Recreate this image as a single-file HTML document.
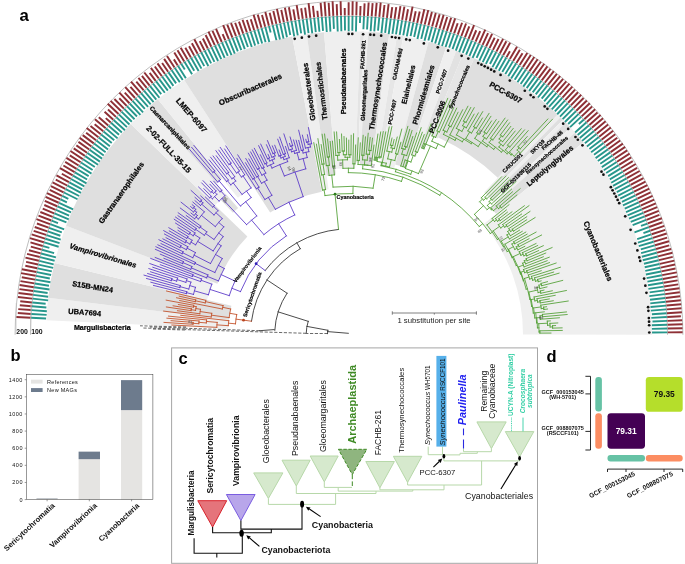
<!DOCTYPE html>
<html><head><meta charset="utf-8"><title>Figure</title>
<style>html,body{margin:0;padding:0;background:#fff}svg{display:block}</style></head>
<body>
<svg width="685" height="564" viewBox="0 0 685 564" font-family="'Liberation Sans', sans-serif">
<rect width="685" height="564" fill="#fff"/>
<g id="sectors">
<path d="M46.32 320.37A303 303 0 0 1 48.2 297.72L228.88 319.63A121 121 0 0 0 228.13 328.68Z" fill="#efefef"/>
<path d="M48.2 297.72A303 303 0 0 1 54.49 262.97L231.39 305.76A121 121 0 0 0 228.88 319.63Z" fill="#dfdfdf"/>
<path d="M54.49 262.97A303 303 0 0 1 66.08 225.75L212.67 281.94A146 146 0 0 0 207.09 299.88Z" fill="#efefef"/>
<path d="M66.08 225.75A303 303 0 0 1 130.66 124.11L247.4 236.44A141 141 0 0 0 217.34 283.73Z" fill="#dfdfdf"/>
<path d="M130.66 124.11A303 303 0 0 1 148.94 106.63L226.19 194.51A186 186 0 0 0 214.97 205.23Z" fill="#efefef"/>
<path d="M148.94 106.63A303 303 0 0 1 157.8 99.15L222.16 178.27A201 201 0 0 0 216.29 183.24Z" fill="#dfdfdf"/>
<path d="M157.8 99.15A303 303 0 0 1 184.21 79.93L253.28 186.51A176 176 0 0 0 237.94 197.67Z" fill="#efefef"/>
<path d="M184.21 79.93A303 303 0 0 1 292.14 36.58L321.79 191.78A145 145 0 0 0 270.14 212.52Z" fill="#dfdfdf"/>
<path d="M292.14 36.58A303 303 0 0 1 306.71 34.17L328.55 189.13A146.5 146.5 0 0 0 321.51 190.3Z" fill="#efefef"/>
<path d="M306.71 34.17A303 303 0 0 1 324.01 32.23L335.8 174.75A160 160 0 0 0 326.67 175.77Z" fill="#dfdfdf"/>
<path d="M324.01 32.23A303 303 0 0 1 360.38 31.41L355.23 168.32A166 166 0 0 0 335.31 168.77Z" fill="#efefef"/>
<path d="M360.38 31.41A303 303 0 0 1 364.07 31.57L357.55 162.41A172 172 0 0 0 355.46 162.32Z" fill="#e4e4e4"/>
<path d="M364.07 31.57A303 303 0 0 1 368.28 31.81L359.95 162.55A172 172 0 0 0 357.55 162.41Z" fill="#efefef"/>
<path d="M368.28 31.81A303 303 0 0 1 389.28 33.89L371.6 165.71A170 170 0 0 0 359.82 164.54Z" fill="#dfdfdf"/>
<path d="M389.28 33.89A303 303 0 0 1 397.12 35.04L376.95 160.43A176 176 0 0 0 372.4 159.76Z" fill="#efefef"/>
<path d="M397.12 35.04A303 303 0 0 1 403.36 36.12L381.29 157.12A180 180 0 0 0 377.58 156.48Z" fill="#e6e6e6"/>
<path d="M403.36 36.12A303 303 0 0 1 428.58 41.84L394.17 168.24A172 172 0 0 0 379.86 164.99Z" fill="#efefef"/>
<path d="M428.58 41.84A303 303 0 0 1 446.25 47.23L405.49 167.51A176 176 0 0 0 395.22 164.38Z" fill="#dfdfdf"/>
<path d="M446.25 47.23A303 303 0 0 1 456.2 50.8L416.22 156.49A190 190 0 0 0 409.98 154.25Z" fill="#efefef"/>
<path d="M456.2 50.8A303 303 0 0 1 463.08 53.5L424.3 148.92A200 200 0 0 0 419.76 147.13Z" fill="#e2e2e2"/>
<path d="M463.08 53.5A303 303 0 0 1 474.24 58.29L437.87 138.43A215 215 0 0 0 429.95 135.02Z" fill="#e6e6e6"/>
<path d="M474.24 58.29A303 303 0 0 1 557.78 114.61L497.83 177.66A216 216 0 0 0 438.28 137.51Z" fill="#dfdfdf"/>
<path d="M557.78 114.61A303 303 0 0 1 560.45 117.18L485.78 193.81A196 196 0 0 0 484.05 192.15Z" fill="#efefef"/>
<path d="M560.45 117.18A303 303 0 0 1 563.08 119.78L487.48 195.5A196 196 0 0 0 485.78 193.81Z" fill="#dfdfdf"/>
<path d="M563.08 119.78A303 303 0 0 1 565.69 122.41L489.17 197.2A196 196 0 0 0 487.48 195.5Z" fill="#efefef"/>
<path d="M565.69 122.41A303 303 0 0 1 570.62 127.57L492.36 200.54A196 196 0 0 0 489.17 197.2Z" fill="#dfdfdf"/>
<path d="M570.62 127.57A303 303 0 0 1 575.07 132.46L495.24 203.7A196 196 0 0 0 492.36 200.54Z" fill="#efefef"/>
<path d="M575.07 132.46A303 303 0 0 1 583.49 142.31L496.04 213.87A190 190 0 0 0 490.76 207.69Z" fill="#dfdfdf"/>
<path d="M583.49 142.31A303 303 0 0 1 652 334.73L523 334.5A174 174 0 0 0 483.66 224.01Z" fill="#efefef"/>
<path d="M220.5 199.73A186 186 0 0 1 226.24 194.46L238.12 207.99A168 168 0 0 0 232.93 212.74Z" fill="#dfdfdf"/>
</g>
<g fill="none" stroke="#a2a2a2" stroke-width="0.7">
<path d="M15.1 334.78A333.9 333.9 0 0 1 682.9 334.78"/>
<path d="M30.5 334.76A318.5 318.5 0 0 1 667.5 334.76"/>
</g>
<path d="M30.73 317.74L16.24 316.99M30.95 313.91L17.79 313.07M31.21 310.08L18.27 309.1M31.53 306.25L19.82 305.22M31.89 302.43L20.24 301.26M32.29 298.61L17.98 297M32.75 294.8L18.46 293.02M33.24 290.99L19.46 289.1M33.79 287.19L19.61 285.08M34.38 283.4L20.43 281.14M35.01 279.61L21.78 277.31M35.69 275.83L21.04 273.1M36.42 272.06L21.91 269.18M37.19 268.3L25.31 265.79M38 264.55L26.11 261.88M38.87 260.8L25.44 257.63M39.77 257.07L27.05 253.9M40.72 253.35L28.97 250.27M41.72 249.65L30.83 246.65M42.76 245.95L30.45 242.4M43.85 242.27L29.94 238.08M44.98 238.6L31.63 234.4M46.15 234.94L33.67 230.85M47.37 231.3L34.73 226.99M48.63 227.67L36.9 223.51M49.94 224.06L36.45 219.1M51.28 220.47L38.48 215.57M52.68 216.89L40.33 212M54.11 213.33L42.72 208.66M55.59 209.78L44.3 205M57.11 206.26L44.78 200.85M58.67 202.75L45.62 196.84M60.28 199.26L47 193.06M61.92 195.79L49.75 189.93M63.61 192.34L50.93 186.04M65.34 188.92L52.57 182.38M67.11 185.51L55.78 179.53M68.92 182.12L56.48 175.37M70.78 178.76L61.82 173.76M72.67 175.42L60.04 168.17M74.6 172.1L63.38 165.47M76.58 168.81L65.18 161.89M78.59 165.54L66.42 157.95M80.64 162.29L69.8 155.35M82.73 159.07L70.48 151.02M84.86 155.88L73.72 148.35M87.03 152.71L76.38 145.33M89.23 149.56L78.46 141.91M91.48 146.45L79.7 137.87M93.76 143.36L82.7 135.1M96.07 140.3L86.13 132.67M98.43 137.26L86.64 128M100.82 134.26L90.49 125.94M103.25 131.28L94.64 124.18M105.71 128.34L94.94 119.23M108.21 125.42L98.8 117.27M110.74 122.54L105.76 118.11M113.31 119.68L104.58 111.74M115.91 116.86L107.99 109.47M118.54 114.07L107.71 103.72M121.21 111.3L110.59 100.91M123.91 108.58L114.39 99.03M126.65 105.88L119.26 98.3M129.42 103.22L119.38 92.66M132.21 100.59L124.75 92.55M135.04 98L125.27 87.21M137.91 95.43L130.42 86.97M140.8 92.91L131.01 81.57M143.72 90.42L136.32 81.64M146.67 87.96L138.44 77.94M149.65 85.54L141.93 75.91M152.66 83.16L144.31 72.48M155.7 80.81L149.65 72.88M158.77 78.5L150.86 67.87M161.86 76.23L154.82 66.52M164.98 73.99L157.49 63.39M168.13 71.79L162.1 63.04M171.31 69.63L164.11 58.91M174.51 67.51L166.99 56.02M177.73 65.43L173.88 59.38M180.98 63.39L174.28 52.58M184.26 61.38L177.5 50.18M187.56 59.42L180.69 47.72M190.88 57.49L185.32 47.76M194.22 55.61L189.06 46.32M197.59 53.76L191.88 43.19M200.98 51.96L194.32 39.25M204.39 50.2L199.75 41.08M207.83 48.47L202.88 38.46M211.28 46.79L205.64 35.04M214.75 45.16L208.49 31.67M218.24 43.56L212.51 30.82M221.75 42L216.06 28.92M225.28 40.49L222.64 34.23M228.83 39.02L223.17 25.13M232.4 37.6L227.25 24.52M235.98 36.21L231.01 23.13M239.58 34.87L235.14 22.75M243.19 33.58L238.99 21.63M246.82 32.32L242.56 19.74M250.46 31.12L246.86 20.03M254.12 29.95L250.76 19.18M257.79 28.83L253.6 14.78M261.48 27.75L257.73 14.62M265.18 26.72L261.97 14.94M268.89 25.73L265.31 11.96M272.61 24.79L269.65 12.78M276.34 23.89L273.33 11M280.09 23.04L276.94 8.85M283.84 22.23L281.26 9.87M287.61 21.47L284.9 7.71M291.38 20.75L288.9 7.25M295.16 20.08L293.32 9.35M298.95 19.46L296.66 5.05M302.74 18.88L301.18 8.26M306.54 18.34L305.09 7.54M310.35 17.85L308.54 3.03M314.17 17.41L312.9 5.86M317.99 17.01L317.37 10.74M321.81 16.66L320.62 2.82M325.64 16.36L324.57 1.85M329.47 16.1L328.65 2.7M333.3 15.89L332.58 1.3M337.14 15.72L336.71 4.11M340.98 15.6L340.61 1.17M344.81 15.53L344.72 8.07M348.65 15.5L348.64 2.15M352.49 15.52L352.65 1.36M356.33 15.58L356.65 1.69M360.17 15.7L360.51 5.93M364.01 15.85L364.6 3.38M367.84 16.06L368.65 2.44M371.67 16.31L372.62 3.07M375.5 16.6L376.65 2.8M379.33 16.95L380.7 2.57M383.15 17.33L384.47 5.02M386.96 17.77L388.59 4.18M390.77 18.25L392.24 7.1M394.57 18.78L396.26 7.08M398.37 19.35L400.45 6.07M402.16 19.96L404.41 6.68M405.94 20.63L408.01 9.24M409.72 21.34L412.57 6.62M413.48 22.09L415.72 11.26M417.24 22.89L419.72 11.55M420.98 23.74L424.34 9.26M424.72 24.63L428.27 10.11M428.44 25.56L431.92 12.05M432.15 26.54L435.78 13.11M435.85 27.56L439.65 14.15M439.54 28.63L443.62 14.89M443.22 29.75L447.18 16.93M446.88 30.9L451.12 17.74M450.53 32.1L455.13 18.39M454.16 33.35L457.7 23.21M457.77 34.64L462.09 22.75M461.38 35.97L466.07 23.5M464.96 37.35L469.26 26.33M468.53 38.76L474.07 25.07M472.08 40.23L476.25 30.25M475.61 41.73L480.19 31.14M479.13 43.28L485.24 29.62M482.62 44.86L488.06 33.08M486.1 46.5L492.12 33.87M489.55 48.17L494.69 37.72M492.99 49.88L498.53 38.95M496.4 51.64L503.09 38.83M499.8 53.43L506.33 41.27M503.17 55.27L510.11 42.72M506.52 57.15L509.92 51.16M509.85 59.07L517.01 46.8M513.15 61.02L519.89 49.8M516.43 63.02L522.52 53.16M519.68 65.06L527.3 53.06M522.91 67.13L530.77 55.06M526.12 69.25L534.29 57.02M529.3 71.4L537.64 59.24M532.45 73.59L540.83 61.69M535.58 75.82L544.27 63.79M538.68 78.09L547.4 66.31M541.75 80.39L550.43 68.96M544.79 82.73L553.81 71.16M547.81 85.11L556.86 73.77M550.79 87.52L560.17 76.07M553.75 89.97L563.08 78.85M556.68 92.46L566.28 81.28M559.58 94.98L569.47 83.73M562.44 97.53L572.31 86.58M565.28 100.12L575.05 89.55M568.08 102.74L578 92.26M570.86 105.4L581.18 94.76M573.6 108.09L583.59 98.02M576.3 110.81L586.87 100.43M578.98 113.57L589.79 103.19M581.62 116.35L592.06 106.58M584.23 119.17L595.17 109.17M586.8 122.02L597.51 112.46M589.34 124.9L600.61 115.09M591.84 127.81L603.04 118.29M594.31 130.75L605.63 121.37M596.75 133.72L608.1 124.54M599.14 136.72L610.75 127.56M601.5 139.75L613.16 130.77M603.83 142.81L615.3 134.19M606.12 145.89L617.28 137.71M608.37 149L620.16 140.58M610.58 152.14L622.85 143.6M612.75 155.3L625.16 146.89M614.89 158.49L627.21 150.36M616.99 161.71L629.58 153.61M619.05 164.95L631.23 157.32M621.07 168.22L632.76 161.08M623.05 171.51L635.71 163.99M624.99 174.82L637.14 167.8M626.89 178.16L639.59 171.02M628.75 181.52L641.31 174.66M630.56 184.9L643.48 178.05M632.34 188.3L645.47 181.54M634.08 191.73L647.41 185.06M635.78 195.17L649.25 188.64M637.43 198.64L650.58 192.45M639.04 202.12L652.57 195.96M640.61 205.62L654.13 199.66M642.14 209.15L655.8 203.32M643.63 212.69L657.16 207.11M645.07 216.25L658.76 210.79M646.47 219.82L659.38 214.86M647.82 223.41L661.84 218.22M649.14 227.02L662.45 222.27M650.41 230.64L664.31 225.87M651.63 234.28L665.18 229.81M652.81 237.94L666.71 233.54M653.95 241.6L667.17 237.59M655.05 245.29L669.01 241.23M656.09 248.98L669.26 245.33M657.1 252.68L671.15 248.97M658.06 256.4L672.47 252.77M658.97 260.13L672.75 256.84M659.84 263.87L674.37 260.58M660.67 267.62L675.06 264.55M661.45 271.38L675.51 268.55M662.18 275.15L676.79 272.4M662.87 278.93L677.33 276.38M663.51 282.71L677.64 280.4M664.11 286.51L678.23 284.37M664.66 290.31L679.44 288.25M665.17 294.11L679.81 292.26M665.63 297.92L680.06 296.27M666.04 301.74L680.82 300.23M666.41 305.56L681.18 304.23M666.73 309.39L681.42 308.24M667.01 313.22L681.87 312.24M667.24 317.05L680.9 316.32M667.42 320.89L682.12 320.27M667.56 324.72L682.54 324.28M667.65 328.56L682.53 328.3M667.69 332.4L682.59 332.32" stroke="#8e3036" stroke-width="1.95" fill="none"/>
<path d="M31.12 317.76L46.07 318.54M31.35 313.93L46.65 314.91M31.61 310.11L46.86 311.27M31.93 306.29L46.4 307.56M32.29 302.47L45.64 303.81M32.69 298.66L48.14 300.39M33.14 294.85L48.13 296.72M33.64 291.05L47.61 292.96M34.18 287.25L49.48 289.53M34.77 283.46L48.99 285.76M35.4 279.68L50.47 282.3M36.08 275.9L49.82 278.46M36.81 272.14L51.11 274.98M37.58 268.38L51.83 271.39M38.4 264.63L53.18 267.94M39.26 260.9L53.69 264.31M40.16 257.17L54.65 260.79M41.11 253.46L55.91 257.34M42.11 249.75L54.12 253.06M43.15 246.06L49.36 247.85M44.23 242.38L58.65 246.73M45.36 238.72L59.59 243.19M46.53 235.07L60.73 239.72M47.75 231.43L60.37 235.74M49.01 227.81L61.82 232.35M50.31 224.2L64.19 229.31M51.66 220.61L58 223.03M53.05 217.04L66.45 222.34M54.48 213.48L68.76 219.33M55.96 209.94L69.14 215.53M57.48 206.42L71.04 212.36M59.04 202.91L73.09 209.28M60.64 199.43L66.86 202.34M62.28 195.97L68.32 198.88M63.97 192.52L77.52 199.26M65.7 189.1L79.15 195.99M67.47 185.7L80.99 192.83M69.28 182.31L82.27 189.37M71.13 178.96L84.36 186.35M73.02 175.62L86.47 183.35M74.95 172.31L87.12 179.5M76.92 169.02L88.66 176.15M78.93 165.75L91.5 173.59M80.98 162.51L92.59 169.95M83.06 159.29L94.85 167.04M85.19 156.1L97.97 164.73M87.36 152.94L99.88 161.61M89.56 149.8L102 158.64M91.8 146.68L103.76 155.4M94.08 143.6L105.61 152.22M96.39 140.54L108.03 149.47M98.74 137.51L109.89 146.27M101.13 134.51L111.76 143.08M103.55 131.54L114.23 140.35M106.01 128.6L117.58 138.38M108.51 125.68L119.07 134.84M111.04 122.8L121.87 132.42M113.6 119.95L124.93 130.26M116.2 117.13L126.96 127.16M118.83 114.34L129.46 124.49M121.5 111.58L131.84 121.7M124.2 108.86L134.54 119.22M126.93 106.17L137 116.51M129.69 103.51L140.42 114.79M132.49 100.88L143.06 112.28M135.31 98.29L144.86 108.83M138.17 95.73L148.07 106.93M141.06 93.21L150.68 104.36M143.98 90.72L153.58 102.12M146.93 88.27L156.29 99.67M149.9 85.86L159.41 97.72M152.91 83.47L161.21 94.09M155.94 81.13L164.83 92.77M159.01 78.82L167.83 90.68M162.1 76.55L170.83 88.6M165.22 74.32L173.4 85.89M168.36 72.12L176.12 83.39M171.53 69.97L179.81 82.29M174.73 67.85L182.73 80.08M177.95 65.77L185.85 78.16M181.19 63.73L184.8 69.54M184.47 61.72L192.05 74.29M187.76 59.76L194.23 70.77M191.08 57.84L198.59 70.98M194.42 55.96L201.45 68.61M197.78 54.11L204.25 66.1M201.17 52.31L208.32 65.95M204.57 50.55L211.14 63.44M208 48.83L214.43 61.85M211.45 47.15L218.07 60.97M214.92 45.52L221.25 59.15M218.41 43.92L224.64 57.78M221.91 42.37L227.8 55.88M225.44 40.86L231.49 55.24M228.98 39.39L234.79 53.66M232.54 37.97L237.83 51.42M236.12 36.59L241.28 50.19M239.71 35.25L244.79 49.14M243.32 33.95L247.93 47.04M246.95 32.7L251.77 46.94M250.59 31.5L255.17 45.6M254.24 30.33L258.57 44.21M257.91 29.21L262.15 43.4M261.59 28.14L265.6 42.18M265.28 27.11L269.32 41.93M268.99 26.12L270.65 32.5M272.71 25.18L276.4 40.12M276.44 24.28L279.99 39.45M280.17 23.43L283.53 38.6M283.92 22.62L286.97 37.22M287.68 21.86L290.26 35.02M291.45 21.15L294.26 36.43M295.23 20.48L297.77 35.3M299.01 19.85L301.15 33.29M302.8 19.27L305.06 34.65M306.6 18.74L308.52 33.05M310.4 18.25L312.26 33.46M314.21 17.81L315.78 32.05M318.02 17.41L319.43 31.77M321.84 17.06L323.03 30.88M325.67 16.76L326.78 31.98M329.49 16.5L330.42 31.68M333.32 16.29L333.94 28.9M337.15 16.12L337.73 31.49M340.99 16L341.37 31.25M344.82 15.93L345.01 30.6M348.65 15.9L348.67 31.18M352.49 15.92L352.33 30.71M356.32 15.98L355.97 31.47M360.16 16.1L359.92 22.95M363.99 16.25L363.38 29.24M367.82 16.46L367.05 29.48M371.64 16.71L370.61 31.24M375.47 17L374.27 31.38M379.29 17.34L378.02 30.57M383.1 17.73L381.43 33.21M386.91 18.17L385.15 32.89M390.72 18.65L388.68 34.09M394.52 19.17L392.4 33.85M398.31 19.74L396.01 34.38M402.09 20.36L399.64 34.87M405.87 21.02L403.27 35.33M409.64 21.73L406.81 36.32M413.4 22.48L410.58 36.12M417.15 23.28L414.14 37.04M420.89 24.13L417.43 39.04M424.62 25.01L421.24 38.86M428.34 25.95L424.51 40.84M432.05 26.93L428.36 40.57M435.75 27.95L431.67 42.32M439.43 29.02L435.13 43.51M443.1 30.13L438.49 45.02M446.76 31.28L442.01 45.98M450.4 32.48L445.54 46.95M454.03 33.73L449.15 47.67M457.64 35.01L452.51 49.12M461.23 36.34L455.84 50.67M464.81 37.72L459.15 52.22M468.38 39.13L462.79 52.95M471.92 40.59L466.1 54.51M475.45 42.1L469.37 56.14M478.96 43.64L472.6 57.87M482.45 45.23L476.6 57.9M485.93 46.86L479.36 60.63M489.38 48.53L482.74 62.05M492.81 50.24L485.9 63.88M496.22 51.99L489.97 63.97M499.61 53.79L492.47 67.08M502.98 55.62L495.54 69.07M506.32 57.5L498.82 70.68M509.64 59.41L502.27 72.03M512.94 61.37L505.27 74.13M516.22 63.36L508.21 76.33M519.47 65.4L511.12 78.56M522.69 67.47L514.69 79.77M525.9 69.58L517.46 82.21M529.07 71.73L520.66 83.99M532.22 73.92L523.28 86.61M535.34 76.15L526.67 88.16M538.44 78.41L529.16 90.94M541.51 80.71L532.67 92.35M544.55 83.05L535.72 94.39M547.56 85.42L537.93 97.48M550.54 87.83L541.68 98.66M553.49 90.28L544.12 101.46M556.42 92.76L546.51 104.3M559.31 95.28L549.02 106.96M562.17 97.83L551.77 109.36M565.01 100.41L554.88 111.37M567.81 103.03L557.19 114.25M570.58 105.69L560.01 116.59M573.31 108.37L562.64 119.12M576.02 111.09L564.92 122M578.69 113.84L568.15 123.95M581.33 116.63L570.07 127.17M583.93 119.44L578.87 124.07M586.5 122.29L575.11 132.45M589.04 125.16L577.67 135.06M591.54 128.07L579.83 138.02M594.01 131.01L582.1 140.88M596.44 133.97L584.87 143.33M598.83 136.97L586.9 146.39M601.19 139.99L589.41 149.06M603.51 143.05L591.14 152.34M605.79 146.13L593.96 154.79M608.04 149.23L595.6 158.12M610.25 152.37L597.84 161M612.42 155.53L600.26 163.78M614.56 158.71L601.81 167.13M616.65 161.93L603.79 170.2M618.71 165.16L606.16 173.02M620.72 168.43L608.17 176.09M622.7 171.71L609.83 179.35M624.64 175.02L611.25 182.75M626.54 178.35L613.02 185.94M628.39 181.71L614.79 189.13M630.21 185.09L616.77 192.21M631.99 188.48L618.18 195.59M633.72 191.9L620.16 198.68M635.42 195.34L621.95 201.87M637.07 198.81L622.98 205.43M638.68 202.29L624.75 208.63M640.25 205.79L626.05 212.04M641.77 209.3L627.57 215.36M643.26 212.84L629.02 218.71M644.7 216.39L630.72 221.96M646.09 219.96L632.64 225.14M647.45 223.55L641 225.94M648.76 227.16L634.45 232.27M650.03 230.77L643.42 233.05M651.25 234.41L637.19 239.05M652.43 238.06L637.95 242.65M653.57 241.72L638.78 246.21M654.66 245.4L640.79 249.43M655.71 249.09L641.11 253.14M656.71 252.79L641.83 256.72M657.67 256.5L642.78 260.25M658.58 260.22L643.91 263.73M659.45 263.96L644.69 267.3M660.28 267.7L645.26 270.91M661.06 271.46L645.91 274.5M661.79 275.22L646.65 278.08M662.48 279L647.4 281.65M663.12 282.78L648.03 285.25M663.72 286.57L648.39 288.89M664.27 290.36L649.62 292.4M664.77 294.16L649.33 296.12M665.23 297.97L650.01 299.71M665.64 301.78L650.27 303.36M666.01 305.6L650.49 307M666.33 309.42L650.86 310.63M666.61 313.25L651.9 314.22M666.84 317.07L651.32 317.91M667.02 320.9L652.48 321.51M667.16 324.74L651.84 325.19M667.25 328.57L651.89 328.84M667.29 332.4L652.05 332.49" stroke="#27978c" stroke-width="1.9" fill="none"/>
<g fill="#111">
<circle cx="294.7" cy="38.85" r="1.35"/>
<circle cx="301.84" cy="37.63" r="1.35"/>
<circle cx="309" cy="36.58" r="1.35"/>
<circle cx="316.18" cy="35.7" r="1.35"/>
<circle cx="348.67" cy="33.9" r="1.35"/>
<circle cx="352.29" cy="33.92" r="1.35"/>
<circle cx="363.14" cy="34.23" r="1.35"/>
<circle cx="370.36" cy="34.66" r="1.35"/>
<circle cx="373.97" cy="34.94" r="1.35"/>
<circle cx="381.17" cy="35.63" r="1.35"/>
<circle cx="391.94" cy="36.99" r="1.35"/>
<circle cx="395.52" cy="37.53" r="1.35"/>
<circle cx="399.09" cy="38.11" r="1.35"/>
<circle cx="406.21" cy="39.4" r="1.35"/>
<circle cx="409.76" cy="40.11" r="1.35"/>
<circle cx="423.85" cy="43.38" r="1.35"/>
<circle cx="437.78" cy="47.32" r="1.35"/>
<circle cx="448.09" cy="50.72" r="1.35"/>
<circle cx="461.63" cy="55.82" r="1.35"/>
<circle cx="468.3" cy="58.61" r="1.35"/>
<circle cx="478.18" cy="63.11" r="1.35"/>
<circle cx="481.44" cy="64.68" r="1.35"/>
<circle cx="484.68" cy="66.3" r="1.35"/>
<circle cx="487.89" cy="67.95" r="1.35"/>
<circle cx="491.09" cy="69.64" r="1.35"/>
<circle cx="494.27" cy="71.38" r="1.35"/>
<circle cx="500.56" cy="74.95" r="1.35"/>
<circle cx="509.83" cy="80.6" r="1.35"/>
<circle cx="524.8" cy="90.74" r="1.35"/>
<circle cx="530.62" cy="95.05" r="1.35"/>
<circle cx="533.49" cy="97.25" r="1.35"/>
<circle cx="544.69" cy="106.41" r="1.35"/>
<circle cx="547.42" cy="108.79" r="1.35"/>
<circle cx="563.18" cy="123.71" r="1.35"/>
<circle cx="568.19" cy="128.93" r="1.35"/>
<circle cx="575.46" cy="136.98" r="1.35"/>
<circle cx="577.82" cy="139.73" r="1.35"/>
<circle cx="582.44" cy="145.3" r="1.35"/>
<circle cx="601.51" cy="171.67" r="1.35"/>
<circle cx="603.45" cy="174.72" r="1.35"/>
<circle cx="610.84" cy="187.17" r="1.35"/>
<circle cx="612.59" cy="190.33" r="1.35"/>
<circle cx="614.31" cy="193.52" r="1.35"/>
<circle cx="615.98" cy="196.72" r="1.35"/>
<circle cx="617.62" cy="199.95" r="1.35"/>
<circle cx="619.22" cy="203.2" r="1.35"/>
<circle cx="625.22" cy="216.37" r="1.35"/>
<circle cx="630.57" cy="229.81" r="1.35"/>
<circle cx="635.27" cy="243.49" r="1.35"/>
<circle cx="637.38" cy="250.42" r="1.35"/>
<circle cx="639.31" cy="257.39" r="1.35"/>
<circle cx="640.22" cy="260.89" r="1.35"/>
<circle cx="644.1" cy="278.56" r="1.35"/>
<circle cx="645.36" cy="285.69" r="1.35"/>
<circle cx="646.44" cy="292.84" r="1.35"/>
<circle cx="648.09" cy="307.22" r="1.35"/>
<circle cx="648.39" cy="310.82" r="1.35"/>
<circle cx="648.86" cy="318.04" r="1.35"/>
<circle cx="649.04" cy="321.66" r="1.35"/>
<circle cx="649.17" cy="325.27" r="1.35"/>
<circle cx="649.3" cy="332.51" r="1.35"/>
</g>
<g id="tree" fill="none" stroke-width="0.85" stroke-linecap="square">
<path d="M251.46 321.21A98.4 98.4 0 0 1 300.25 248.73M300.25 248.73L296.83 242.73M265.13 270.54A105.3 105.3 0 0 1 338.54 229.42" stroke="#2a2a2a"/>
<path d="M251.46 321.21L243.53 320.15M243.53 320.15A106.4 106.4 0 0 1 243.53 320.15M243.53 320.15L236 319.15M235.47 323.82A114 114 0 0 1 236.71 314.5M235.47 323.82L228.5 323.18M228.3 325.68A121 121 0 0 1 228.76 320.69M228.3 325.68L216.95 324.88M216.8 327.36A132.38 132.38 0 0 1 217.15 322.39M216.8 327.36L171.85 325.04M217.15 322.39L206.44 321.43M206.32 322.94A143.13 143.13 0 0 1 206.59 319.93M206.32 322.94L198.91 322.35M198.81 323.71A150.55 150.55 0 0 1 199.03 321M198.81 323.71L193.05 323.31M192.99 324.25A156.33 156.33 0 0 1 193.12 322.37M192.99 324.25L164.02 322.4M193.12 322.37L171.05 320.69M199.03 321L166.88 318.17M206.59 319.93L168.48 316.11M228.76 320.69L180.78 315.3M236.71 314.5L229.82 313.29M229.14 317.61A121 121 0 0 1 230.65 309M229.14 317.61L211.47 315.17M211.22 317.03A138.84 138.84 0 0 1 211.74 313.31M211.22 317.03L163.63 311.1M211.74 313.31L200.15 311.54M199.83 313.79A150.56 150.56 0 0 1 200.51 309.3M199.83 313.79L177.46 310.73M200.51 309.3L195.86 308.52M195.56 310.37A155.28 155.28 0 0 1 196.18 306.68M195.56 310.37L191.2 309.69M191.06 310.65A159.69 159.69 0 0 1 191.36 308.74M191.06 310.65L166.4 306.97M191.36 308.74L173.12 305.8M196.18 306.68L193.57 306.21M193.4 307.15A157.93 157.93 0 0 1 193.74 305.28M193.4 307.15L178.37 304.53M193.74 305.28L166.2 300.14M230.65 309L222.71 307.31M222.35 309.02A129.12 129.12 0 0 1 223.08 305.6M222.35 309.02L179.67 300.54M223.08 305.6L205.51 301.61M205.22 302.91A147.14 147.14 0 0 1 205.81 300.31M205.22 302.91L195.47 300.78M195.27 301.71A157.13 157.13 0 0 1 195.67 299.86M195.27 301.71L176.54 297.75M195.67 299.86L179.23 296.18M205.81 300.31L166.52 291.01" stroke="#c24d25"/>
<path d="M265.13 270.54L256.12 263.7M240.46 291.61A116.6 116.6 0 0 1 286.36 235.85M240.46 291.61L231.89 288.25M229.26 295.63A125.8 125.8 0 0 1 234.98 281.05M229.26 295.63L210.03 289.43M208.42 294.78A146 146 0 0 1 211.84 284.16M208.42 294.78L194.43 290.85M193.48 294.41A160.53 160.53 0 0 1 195.47 287.31M193.48 294.41L186.56 292.64M186.31 293.62A167.67 167.67 0 0 1 186.81 291.67M186.31 293.62L153.48 285.43M186.81 291.67L150.85 282.23M195.47 287.31L189.81 285.59M188.79 289.07A166.45 166.45 0 0 1 190.91 282.12M188.79 289.07L180.08 286.62M179.8 287.64A175.49 175.49 0 0 1 180.37 285.61M179.8 287.64L146.55 278.49M180.37 285.61L144.03 275.13M190.91 282.12L186.42 280.64M185.86 282.36A171.17 171.17 0 0 1 186.99 278.93M185.86 282.36L177.13 279.58M176.65 281.14A180.34 180.34 0 0 1 177.63 278.03M176.65 281.14L171.66 279.6M171.33 280.67A185.56 185.56 0 0 1 171.99 278.54M171.33 280.67L147.69 273.55M171.99 278.54L150.58 271.81M177.63 278.03L148.88 268.61M186.99 278.93L152.79 267.26M211.84 284.16L201.1 280.24M200.62 281.58A157.44 157.44 0 0 1 201.59 278.9M200.62 281.58L149.83 263.56M201.59 278.9L192.67 275.55M192.31 276.5A166.97 166.97 0 0 1 193.02 274.61M192.31 276.5L160.27 264.69M193.02 274.61L150.72 258.45M234.98 281.05L221.2 274.63M218.45 280.92A141 141 0 0 1 224.25 268.48M218.45 280.92L207.28 276.36M206.68 277.86A153.07 153.07 0 0 1 207.9 274.87M206.68 277.86L155.2 257.48M207.9 274.87L191.34 267.9M190.74 269.33A171.04 171.04 0 0 1 191.94 266.48M190.74 269.33L163.87 258.31M191.94 266.48L183.04 262.65M182.61 263.65A180.73 180.73 0 0 1 183.48 261.65M182.61 263.65L160.35 254.21M183.48 261.65L155.38 249.33M224.25 268.48L218.37 265.38M214.86 272.49A147.65 147.65 0 0 1 222.25 258.47M214.86 272.49L194.97 263.34M194.54 264.27A169.55 169.55 0 0 1 195.4 262.41M194.54 264.27L155.93 246.78M195.4 262.41L157.89 244.88M222.25 258.47L215.52 254.45M210.5 263.53A155.49 155.49 0 0 1 221.13 245.73M210.5 263.53L194.09 255.15M192.8 257.73A173.91 173.91 0 0 1 195.42 252.6M192.8 257.73L182.64 252.76M182.16 253.76A185.22 185.22 0 0 1 183.14 251.76M182.16 253.76L160.98 243.55M183.14 251.76L158.96 239.74M195.42 252.6L187.09 248.17M186.32 249.64A183.35 183.35 0 0 1 187.87 246.71M186.32 249.64L180.52 246.62M180 247.64A189.88 189.88 0 0 1 181.05 245.61M180 247.64L162.93 238.9M181.05 245.61L166.03 237.69M187.87 246.71L164.47 234.01M221.13 245.73L218 243.56M213.21 250.92A159.3 159.3 0 0 1 223.19 236.49M213.21 250.92L197.69 241.4M195.63 244.84A177.5 177.5 0 0 1 199.82 238.01M195.63 244.84L191.01 242.15M189.92 244.06A182.85 182.85 0 0 1 192.13 240.25M189.92 244.06L185.81 241.73M185.26 242.72A187.56 187.56 0 0 1 186.37 240.75M185.26 242.72L163.73 230.69M186.37 240.75L169.32 230.95M192.13 240.25L187.39 237.41M186.81 238.39A188.38 188.38 0 0 1 187.97 236.44M186.81 238.39L168.86 227.78M187.97 236.44L177.96 230.36M199.82 238.01L194.15 234.35M193.26 235.75A184.25 184.25 0 0 1 195.06 232.95M193.26 235.75L189.57 233.42M188.97 234.39A188.61 188.61 0 0 1 190.18 232.47M188.97 234.39L177.95 227.51M190.18 232.47L175.56 223.1M195.06 232.95L174.24 219.26M223.19 236.49L218.72 233.01M213.96 239.44A164.97 164.97 0 0 1 223.77 226.81M213.96 239.44L205.59 233.56M204.38 235.3A175.2 175.2 0 0 1 206.81 231.84M204.38 235.3L195.62 229.3M194.99 230.23A185.82 185.82 0 0 1 196.25 228.38M194.99 230.23L175.54 217.1M196.25 228.38L177.95 215.7M206.81 231.84L200.22 227.1M199.58 227.99A183.32 183.32 0 0 1 200.87 226.2M199.58 227.99L178.19 212.79M200.87 226.2L186.27 215.56M223.77 226.81L218.68 222.45M215.27 226.55A171.67 171.67 0 0 1 222.22 218.46M215.27 226.55L201.39 215.37M198.53 219.02A189.5 189.5 0 0 1 204.34 211.8M198.53 219.02L196.02 217.1M194.71 218.84A192.65 192.65 0 0 1 197.35 215.38M194.71 218.84L180.33 208.09M197.35 215.38L195.39 213.84M194.13 215.47A195.15 195.15 0 0 1 196.66 212.23M194.13 215.47L190.99 213.06M196.66 212.23L194.71 210.67M193.6 212.07A197.65 197.65 0 0 1 195.83 209.28M193.6 212.07L181.11 202.25M195.83 209.28L193.75 207.58M192.99 208.52A200.34 200.34 0 0 1 194.52 206.65M192.99 208.52L190.66 206.64M194.52 206.65L192.2 204.74M204.34 211.8L192.87 202.09M222.22 218.46L215.98 212.77M213.99 214.99A180.11 180.11 0 0 1 218.01 210.58M213.99 214.99L201.72 204.16M200.56 205.49A196.47 196.47 0 0 1 202.91 202.83M200.56 205.49L194.97 200.65M202.91 202.83L200.9 201.02M200.1 201.92A199.17 199.17 0 0 1 201.7 200.14M200.1 201.92L195.03 197.42M201.7 200.14L191.09 190.48M218.01 210.58L213.58 206.39M212.81 207.21A186.21 186.21 0 0 1 214.35 205.58M212.81 207.21L200.72 195.94M214.35 205.58L205.46 197.09M286.36 235.85L278.63 223.71M263.91 234.6A131 131 0 0 1 294.72 214.97M263.91 234.6L251.56 220.16M246.55 224.63A150 150 0 0 1 256.77 215.91M246.55 224.63L221.97 198.34M219.03 201.14A186 186 0 0 1 224.96 195.6M219.03 201.14L214.6 196.61M212.34 198.86A192.34 192.34 0 0 1 216.9 194.4M212.34 198.86L210.56 197.1M209.74 197.93A194.84 194.84 0 0 1 211.39 196.26M209.74 197.93L198.57 187M211.39 196.26L203.85 188.7M216.9 194.4L214.81 192.19M213.53 193.41A195.38 195.38 0 0 1 216.1 190.98M213.53 193.41L211.8 191.61M210.94 192.44A197.88 197.88 0 0 1 212.66 190.78M210.94 192.44L201.7 182.95M212.66 190.78L203.1 180.73M216.1 190.98L209.89 184.29M224.96 195.6L220.96 191.13M220.1 191.9A192 192 0 0 1 221.83 190.36M220.1 191.9L210.5 181.29M221.83 190.36L213.72 181.19M256.77 215.91L245.7 201.71M240.4 206.02A168 168 0 0 1 251.17 197.62M240.4 206.02L219.07 180.84M217.69 182.02A201 201 0 0 1 220.46 179.67M217.69 182.02L189.58 149.44M220.46 179.67L213.83 171.7M212.85 172.52A211.37 211.37 0 0 1 214.81 170.89M212.85 172.52L191.67 147.36M214.81 170.89L193.91 145.46M251.17 197.62L246.51 191.12M242.04 194.43A176 176 0 0 1 251.09 187.95M242.04 194.43L233.23 182.91M230.74 184.85A190.51 190.51 0 0 1 235.75 181.01M230.74 184.85L227.55 180.82M226.63 181.56A195.64 195.64 0 0 1 228.47 180.09M226.63 181.56L209.31 159.96M228.47 180.09L210.55 157.18M235.75 181.01L233.35 177.77M231.94 178.82A194.54 194.54 0 0 1 234.77 176.73M231.94 178.82L227.66 173.14M226.69 173.87A201.66 201.66 0 0 1 228.63 172.41M226.69 173.87L213.05 155.98M228.63 172.41L216.28 155.81M234.77 176.73L215.89 150.7M251.09 187.95L243.04 175.93M241.38 177.06A190.46 190.46 0 0 1 244.72 174.82M241.38 177.06L237.97 172.08M236.51 173.09A196.5 196.5 0 0 1 239.44 171.08M236.51 173.09L230.09 163.89M229.07 164.61A207.71 207.71 0 0 1 231.12 163.18M229.07 164.61L218.83 150.14M231.12 163.18L220.24 147.39M239.44 171.08L224.63 149.02M244.72 174.82L225.87 146.01M294.72 214.97L288.92 202.23M275.36 209.29A145 145 0 0 1 303.16 196.64M275.36 209.29L268.35 197.4M264.88 199.51A158.8 158.8 0 0 1 271.88 195.38M264.88 199.51L257.69 188.01M256.37 188.84A172.36 172.36 0 0 1 259.02 187.19M256.37 188.84L236.92 158.32M259.02 187.19L253.75 178.59M252.81 179.16A182.45 182.45 0 0 1 254.69 178.02M252.81 179.16L237.77 154.92M254.69 178.02L245.48 162.76M271.88 195.38L264.28 181.7M261.54 183.26A174.45 174.45 0 0 1 267.05 180.2M261.54 183.26L257.62 176.5M256.67 177.05A182.26 182.26 0 0 1 258.57 175.95M256.67 177.05L245.81 158.57M258.57 175.95L248.9 159.02M267.05 180.2L263.83 174.15M261.91 175.18A181.3 181.3 0 0 1 265.76 173.13M261.91 175.18L258.37 168.73M257.37 169.28A188.67 188.67 0 0 1 259.37 168.18M257.37 169.28L248.45 153.22M259.37 168.18L250.61 151.96M265.76 173.13L263.08 167.95M262.08 168.47A187.14 187.14 0 0 1 264.09 167.43M262.08 168.47L252.33 149.87M264.09 167.43L254.36 148.33M303.16 196.64L294.96 172.04M284.37 175.96A170.93 170.93 0 0 1 305.78 168.82M284.37 175.96L279.75 164.66M271.98 168.04A183.14 183.14 0 0 1 287.68 161.63M271.98 168.04L270.49 164.83M267.31 166.33A186.69 186.69 0 0 1 273.69 163.38M267.31 166.33L265.89 163.42M264.87 163.92A189.93 189.93 0 0 1 266.93 162.92M264.87 163.92L260.35 154.77M266.93 162.92L258.68 145.72M273.69 163.38L272.15 159.88M269.79 160.94A190.51 190.51 0 0 1 274.52 158.86M269.79 160.94L268.6 158.34M267.55 158.83A193.37 193.37 0 0 1 269.66 157.86M267.55 158.83L260.72 144.13M269.66 157.86L268.1 154.39M274.52 158.86L273.54 156.55M271.94 157.24A193.01 193.01 0 0 1 275.15 155.88M271.94 157.24L266.51 144.79M275.15 155.88L274.05 153.23M272.96 153.69A195.88 195.88 0 0 1 275.14 152.78M272.96 153.69L267.46 140.62M275.14 152.78L272.35 145.91M287.68 161.63L286.61 158.64M283.98 159.6A186.31 186.31 0 0 1 289.26 157.72M283.98 159.6L283.08 157.2M280.95 158A188.88 188.88 0 0 1 285.22 156.42M280.95 158L280.05 155.67M278.98 156.09A191.38 191.38 0 0 1 281.13 155.26M278.98 156.09L274.73 145.28M281.13 155.26L279.13 149.98M285.22 156.42L284.37 154.06M283.29 154.46A191.38 191.38 0 0 1 285.46 153.68M283.29 154.46L277.74 139.28M285.46 153.68L279.66 137.2M289.26 157.72L285.44 146.44M305.78 168.82L303.11 158.57M299.02 159.69A181.53 181.53 0 0 1 307.22 157.55M299.02 159.69L297.04 152.79M294.72 153.47A188.71 188.71 0 0 1 299.37 152.14M294.72 153.47L294 151.07M291.53 151.83A191.21 191.21 0 0 1 296.49 150.34M291.53 151.83L290.78 149.45M289.11 149.98A193.71 193.71 0 0 1 292.45 148.93M289.11 149.98L283.9 133.96M292.45 148.93L291.54 145.96M290.41 146.31A196.81 196.81 0 0 1 292.68 145.62M290.41 146.31L289.51 143.45M292.68 145.62L290.11 137.03M296.49 150.34L293.54 140.01M299.37 152.14L296.12 140.23M307.22 157.55L305.98 152.3M303.11 153.01A186.91 186.91 0 0 1 308.86 151.65M303.11 153.01L302.4 150.24M301.3 150.52A189.77 189.77 0 0 1 303.51 149.96M301.3 150.52L298.68 140.43M303.51 149.96L298.66 130.28M308.86 151.65L307.95 147.51M305.42 148.09A191.15 191.15 0 0 1 310.48 146.98M305.42 148.09L302.4 135.17M310.48 146.98L309.89 144.07M308.17 144.43A194.11 194.11 0 0 1 311.61 143.72M308.17 144.43L307.64 141.98M306.49 142.24A196.61 196.61 0 0 1 308.8 141.74M306.49 142.24L305.84 139.31M308.8 141.74L307.34 134.72M311.61 143.72L308.44 127.6" stroke="#5634c8"/>
<path d="M338.54 229.42L335.03 194.2M325.02 195.56A140.7 140.7 0 0 1 352.9 193.55M325.02 195.56L324.03 189.84M322.51 190.11A146.5 146.5 0 0 1 325.56 189.59M322.51 190.11L313.79 142.7M325.56 189.59L323.15 174.75M321.71 174.99A161.54 161.54 0 0 1 324.59 174.52M321.71 174.99L316.43 144.19M324.59 174.52L323 164.11M321.98 164.27A172.07 172.07 0 0 1 324.02 163.95M321.98 164.27L317.91 138.71M324.02 163.95L321.18 144.59M352.9 193.55L353.1 186.26M333.05 187.06A148 148 0 0 1 373.08 188.17M333.05 187.06L331.75 175.13M329.12 175.44A160 160 0 0 1 334.39 174.87M329.12 175.44L327.87 165.46M326.35 165.66A170.05 170.05 0 0 1 329.4 165.28M326.35 165.66L322.12 134.25M329.4 165.28L328.43 156.98M327.37 157.11A178.41 178.41 0 0 1 329.5 156.86M327.37 157.11L324.55 134.09M329.5 156.86L327.54 139.04M334.39 174.87L333.66 166.89M332.65 166.99A168.01 168.01 0 0 1 334.67 166.8M332.65 166.99L330.16 141.5M334.67 166.8L332.47 141.2M373.08 188.17L375.29 174.75M348.4 172.6A161.6 161.6 0 0 1 401.46 181.35M348.4 172.6L348.38 168.2M342.95 168.31A166 166 0 0 1 353.82 168.27M342.95 168.31L342.64 159.89M337.79 160.13A174.43 174.43 0 0 1 347.5 159.78M337.79 160.13L337.48 155.36M335.86 155.47A179.21 179.21 0 0 1 339.09 155.26M335.86 155.47L334.14 131.99M339.09 155.26L338.95 152.62M337.85 152.68A181.86 181.86 0 0 1 340.04 152.56M337.85 152.68L336.58 131.96M340.04 152.56L339.4 139.51M347.5 159.78L347.48 157.28M345.08 157.32A176.93 176.93 0 0 1 349.87 157.27M345.08 157.32L345.02 154.72M343.4 154.76A179.53 179.53 0 0 1 346.64 154.69M343.4 154.76L343.28 151.04M342.18 151.08A183.25 183.25 0 0 1 344.39 151.01M342.18 151.08L341.54 134.04M344.39 151.01L344.02 136.59M346.64 154.69L346.42 138.14M349.87 157.27L349.89 154.77M348.81 154.77A179.43 179.43 0 0 1 350.97 154.78M348.81 154.77L348.79 140.15M350.97 154.78L351.18 135.31M353.82 168.27L353.95 163.81M352.92 163.78A170.47 170.47 0 0 1 354.98 163.84M352.92 163.78L353.61 133.76M354.98 163.84L355.64 145.01M401.46 181.35L402.88 177.19M362.62 168.76A166 166 0 0 1 439.84 195.26M362.62 168.76L362.94 164.77M358.03 164.44A170 170 0 0 1 367.85 165.25M358.03 164.44L358.24 160.45M357.19 160.39A174 174 0 0 1 359.29 160.5M357.19 160.39L358.26 137.83M359.29 160.5L360.33 142.89M367.85 165.25L367.85 165.25M364.41 164.9A170 170 0 0 1 371.28 165.67M364.41 164.9L364.86 159.98M362.5 159.78A174.95 174.95 0 0 1 367.22 160.21M362.5 159.78L362.85 155.24M361.77 155.16A179.5 179.5 0 0 1 363.93 155.32M361.77 155.16L363.18 135.33M363.93 155.32L365.46 136.95M367.22 160.21L367.84 154.26M366.22 154.1A180.92 180.92 0 0 1 369.47 154.44M366.22 154.1L368.21 133.28M369.47 154.44L369.92 150.44M368.82 150.32A184.95 184.95 0 0 1 371.03 150.57M368.82 150.32L370.2 137.48M371.03 150.57L372.52 138.16M371.28 165.67L374 145.13M439.84 195.26L441.48 192.75M395.42 171.7A169 169 0 0 1 479.24 226.51M395.42 171.7L396.1 169.3M381.07 165.73A171.5 171.5 0 0 1 410.76 174.2M381.07 165.73L381.72 162.29M377.15 161.48A175 175 0 0 1 386.28 163.22M377.15 161.48L377.79 157.53M375.66 157.2A179 179 0 0 1 379.92 157.89M375.66 157.2L375.22 160.16M374.17 160.01A176 176 0 0 1 376.26 160.32M374.17 160.01L377.91 134.13M376.26 160.32L380.71 131.97M379.92 157.89L380.09 156.91M379.02 156.72A180 180 0 0 1 381.16 157.1M379.02 156.72L383.27 131.65M381.16 157.1L385.73 131.94M386.28 163.22L385.64 166.15M381.77 165.35A172 172 0 0 1 389.49 167.03M381.77 165.35L389.22 126.95M389.49 167.03L391.27 159.66M387.72 158.84A179.59 179.59 0 0 1 394.81 160.56M387.72 158.84L389.32 151.59M386.84 151.06A187.01 187.01 0 0 1 391.79 152.15M386.84 151.06L391.88 126.63M391.79 152.15L392.71 148.23M391.03 147.84A191.04 191.04 0 0 1 394.39 148.63M391.03 147.84L391.58 145.4M390.44 145.15A193.54 193.54 0 0 1 392.71 145.66M390.44 145.15L391.99 138.08M392.71 145.66L394.12 139.59M394.39 148.63L397.21 137.09M394.81 160.56L396.56 153.92M395.47 153.64A186.45 186.45 0 0 1 397.65 154.21M395.47 153.64L401.78 129.14M397.65 154.21L400.86 142.31M410.76 174.2L412.02 170.94M405.43 168.55A175 175 0 0 1 418.5 173.59M405.43 168.55L408.01 160.98M405.07 160A183 183 0 0 1 410.94 162M405.07 160L402.93 166.67M400.78 165.99A176 176 0 0 1 405.07 167.37M400.78 165.99L404.21 154.84M401.77 154.11A187.67 187.67 0 0 1 406.64 155.6M401.77 154.11L403.31 148.87M401.63 148.39A193.12 193.12 0 0 1 404.98 149.37M401.63 148.39L407.86 126.4M404.98 149.37L405.78 146.72M404.65 146.38A195.89 195.89 0 0 1 406.91 147.07M404.65 146.38L409.7 129.35M406.91 147.07L412.03 130.53M406.64 155.6L412.8 136.5M405.07 167.37L416.65 132.89M410.94 162L413.31 155.41M411.69 154.84A190 190 0 0 1 414.92 156M411.69 154.84L421.17 127.73M414.92 156L416.41 151.98M415.31 151.58A194.29 194.29 0 0 1 417.51 152.39M415.31 151.58L422.32 132.27M417.51 152.39L424.22 134.59M418.5 173.59L430.41 146.06M424.74 143.7A205 205 0 0 1 436.01 148.58M424.74 143.7L422.89 148.35M421.77 147.91A200 200 0 0 1 424.01 148.8M421.77 147.91L431.15 123.9M424.01 148.8L432.01 129.03M436.01 148.58L438.13 144.05M431.85 141.23A210 210 0 0 1 444.32 147.08M431.85 141.23L433.82 136.64M432.03 135.88A215 215 0 0 1 435.6 137.41M432.03 135.88L447.73 98.38M435.6 137.41L438.22 131.46M437 130.93A221.5 221.5 0 0 1 439.44 132M437 130.93L450.56 99.61M439.44 132L453.12 101.43M444.32 147.08L449.31 137.28M443.47 134.41A221 221 0 0 1 455.07 140.32M443.47 134.41L445.01 131.14M443.17 130.28A224.61 224.61 0 0 1 446.84 132.02M443.17 130.28L453.67 107.55M446.84 132.02L449.69 126.13M448.44 125.52A231.16 231.16 0 0 1 450.95 126.74M448.44 125.52L456.69 108.2M450.95 126.74L458.05 112.28M455.07 140.32L456.2 138.25M449.91 134.94A223.35 223.35 0 0 1 462.37 141.76M449.91 134.94L462.67 109.75M462.37 141.76L463.9 139.17M456.41 134.94A226.36 226.36 0 0 1 471.23 143.68M456.41 134.94L459.14 129.87M456.36 128.39A232.13 232.13 0 0 1 461.9 131.38M456.36 128.39L467.9 106.27M461.9 131.38L464.47 126.76M462.59 125.73A237.41 237.41 0 0 1 466.34 127.81M462.59 125.73L464.75 121.76M463.47 121.07A241.93 241.93 0 0 1 466.03 122.46M463.47 121.07L470.79 107.45M466.03 122.46L474.18 107.72M466.34 127.81L474.08 114.21M471.23 143.68L472.03 142.43M465.76 138.55A227.84 227.84 0 0 1 478.17 146.51M465.76 138.55L469.68 131.99M467.85 130.9A235.49 235.49 0 0 1 471.5 133.08M467.85 130.9L478.37 112.91M471.5 133.08L474.93 127.46M473.68 126.71A242.07 242.07 0 0 1 476.17 128.22M473.68 126.71L482.72 111.66M476.17 128.22L482.49 117.99M478.17 146.51L480.93 142.5M474.81 138.43A232.71 232.71 0 0 1 486.92 146.76M474.81 138.43L477.94 133.56M476.73 132.79A238.5 238.5 0 0 1 479.15 134.34M476.73 132.79L489.04 113.38M479.15 134.34L490.87 116.35M486.92 146.76L488.15 145.09M482.41 141A234.79 234.79 0 0 1 493.76 149.35M482.41 141L484.69 137.69M482.91 136.48A238.8 238.8 0 0 1 486.46 138.93M482.91 136.48L485.32 132.92M484.1 132.1A243.1 243.1 0 0 1 486.53 133.74M484.1 132.1L491.56 120.94M486.53 133.74L496.2 119.65M486.46 138.93L498.88 121.29M493.76 149.35L495.43 147.23M489.19 142.5A237.49 237.49 0 0 1 501.51 152.15M489.19 142.5L491.67 139.11M490.49 138.26A241.69 241.69 0 0 1 492.84 139.97M490.49 138.26L505 118.17M492.84 139.97L507.64 119.99M501.51 152.15L503.02 150.34M498.9 146.97A239.84 239.84 0 0 1 507.07 153.81M498.9 146.97L501.03 144.31M499.02 142.72A243.25 243.25 0 0 1 503.02 145.92M499.02 142.72L500.88 140.34M499.12 138.97A246.28 246.28 0 0 1 502.63 141.72M499.12 138.97L501.5 135.88M500.31 134.96A250.18 250.18 0 0 1 502.7 136.8M500.31 134.96L509.52 122.83M502.7 136.8L510.78 126.41M502.63 141.72L513.23 128.44M503.02 145.92L515.16 131.08M507.07 153.81L508.26 152.45M505.36 149.95A241.65 241.65 0 0 1 511.11 154.99M505.36 149.95L508.65 146.08M507.51 145.13A246.73 246.73 0 0 1 509.78 147.05M507.51 145.13L521.24 128.75M509.78 147.05L524.53 129.88M511.11 154.99L511.92 154.1M509.46 151.91A242.85 242.85 0 0 1 514.34 156.33M509.46 151.91L528.17 130.65M514.34 156.33L518.78 151.56M517.12 150.03A249.36 249.36 0 0 1 520.42 153.1M517.12 150.03L519.12 147.84M517.99 146.82A252.33 252.33 0 0 1 520.24 148.87M517.99 146.82L527.24 136.57M520.24 148.87L547.84 119M520.42 153.1L552.48 119.23M479.24 226.51L482.71 223.64M474.43 214.32A173.5 173.5 0 0 1 490.3 233.53M474.43 214.32L483.46 205.69M479.68 201.84A186 186 0 0 1 487.13 209.64M479.68 201.84L482.49 199M481.26 197.8A190 190 0 0 1 483.71 200.21M481.26 197.8L501.64 176.78M483.71 200.21L485.83 198.09M485.01 197.27A193 193 0 0 1 486.65 198.92M485.01 197.27L506.09 176.05M486.65 198.92L508.39 177.56M487.13 209.64L489.36 207.63M487.34 205.42A189 189 0 0 1 491.34 209.86M487.34 205.42L490.27 202.7M489.07 201.43A193 193 0 0 1 491.45 203.98M489.07 201.43L491.25 199.36M490.44 198.51A196 196 0 0 1 492.06 200.22M490.44 198.51L510.34 179.41M492.06 200.22L511.49 182.03M491.45 203.98L516.17 181.38M491.34 209.86L492.1 209.21M490.77 207.7A190 190 0 0 1 493.41 210.72M490.77 207.7L511.63 189.09M493.41 210.72L497.38 207.32M496.23 205.99A195.23 195.23 0 0 1 498.52 208.67M496.23 205.99L512.49 191.83M498.52 208.67L500.59 206.93M499.82 206.02A197.93 197.93 0 0 1 501.35 207.85M499.82 206.02L520.15 188.74M501.35 207.85L516.86 194.99M490.3 233.53L492.34 232.08M486.98 224.94A176 176 0 0 1 497.34 239.48M486.98 224.94L493.3 219.93M492.08 218.42A184.06 184.06 0 0 1 494.49 221.46M492.08 218.42L509.01 204.72M494.49 221.46L496.47 219.93M495.43 218.6A186.56 186.56 0 0 1 497.5 221.26M495.43 218.6L506.39 209.95M497.5 221.26L499.49 219.75M498.79 218.85A189.06 189.06 0 0 1 500.17 220.66M498.79 218.85L507.45 212.18M500.17 220.66L511.98 211.79M497.34 239.48L498.56 238.69M493.26 230.86A177.46 177.46 0 0 1 503.44 246.8M493.26 230.86L499.54 226.37M498.39 224.79A185.17 185.17 0 0 1 500.66 227.96M498.39 224.79L524.35 205.77M500.66 227.96L503.69 225.84M502.71 224.45A188.87 188.87 0 0 1 504.66 227.24M502.71 224.45L528.98 205.69M504.66 227.24L506.72 225.83M506.07 224.88A191.37 191.37 0 0 1 507.37 226.78M506.07 224.88L521.62 214.06M507.37 226.78L530 211.43M503.44 246.8L504.33 246.3M501.29 241.13A178.48 178.48 0 0 1 507.19 251.56M501.29 241.13L508.19 236.92M506.93 234.89A186.56 186.56 0 0 1 509.42 238.96M506.93 234.89L509.05 233.56M507.67 231.4A189.06 189.06 0 0 1 510.4 235.74M507.67 231.4L509.77 230.04M508.82 228.59A191.56 191.56 0 0 1 510.7 231.49M508.82 228.59L526.77 216.73M510.7 231.49L512.81 230.15M512.18 229.17A194.06 194.06 0 0 1 513.43 231.14M512.18 229.17L526.74 219.8M513.43 231.14L535.09 217.57M510.4 235.74L519.57 230.14M509.42 238.96L522.26 231.34M507.19 251.56L508.67 250.78M505 244.11A180.15 180.15 0 0 1 512.05 257.61M505 244.11L525.81 232.09M512.05 257.61L512.6 257.35M508.56 249.28A180.75 180.75 0 0 1 516.23 265.61M508.56 249.28L513.4 246.71M511.93 244A186.23 186.23 0 0 1 514.83 249.44M511.93 244L514.11 242.79M513.56 241.79A188.73 188.73 0 0 1 514.66 243.78M513.56 241.79L527.16 234.16M514.66 243.78L536.07 232.1M514.83 249.44L517.05 248.31M516.27 246.79A188.73 188.73 0 0 1 517.82 249.83M516.27 246.79L518.48 245.63M517.95 244.61A191.23 191.23 0 0 1 519.02 246.66M517.95 244.61L528.99 238.76M519.02 246.66L541.57 235.04M517.82 249.83L524.83 246.33M516.23 265.61L517.13 265.24M513.34 256.66A181.72 181.72 0 0 1 520.46 274.01M513.34 256.66L520.05 253.49M519.19 251.69A189.13 189.13 0 0 1 520.89 255.3M519.19 251.69L535.99 243.54M520.89 255.3L523.16 254.26M522.43 252.69A191.63 191.63 0 0 1 523.87 255.83M522.43 252.69L537.67 245.52M523.87 255.83L526.16 254.81M525.67 253.75A194.13 194.13 0 0 1 526.63 255.88M525.67 253.75L543.3 245.72M526.63 255.88L538.68 250.57M520.46 274.01L521.01 273.82M518.46 266.98A182.3 182.3 0 0 1 523.29 280.76M518.46 266.98L523.36 265.04M522.62 263.2A187.58 187.58 0 0 1 524.08 266.88M522.62 263.2L524.94 262.26M524.28 260.67A190.08 190.08 0 0 1 525.58 263.85M524.28 260.67L526.58 259.7M526.13 258.64A192.58 192.58 0 0 1 527.03 260.78M526.13 258.64L552.06 247.57M527.03 260.78L545.73 253.06M525.58 263.85L543.34 256.77M524.08 266.88L549.27 257.2M523.29 280.76L523.74 280.62M520.94 272.22A182.77 182.77 0 0 1 526.13 289.15M520.94 272.22L524.03 271.1M523.46 269.52A186.06 186.06 0 0 1 524.6 272.69M523.46 269.52L547.12 260.75M524.6 272.69L526.96 271.86M526.58 270.79A188.56 188.56 0 0 1 527.33 272.93M526.58 270.79L549.45 262.62M527.33 272.93L556.12 263.04M526.13 289.15L527.49 288.8M524.53 278.44A184.17 184.17 0 0 1 529.84 299.32M524.53 278.44L529 277.02M528.35 274.99A188.87 188.87 0 0 1 529.64 279.05M528.35 274.99L541.21 270.74M529.64 279.05L532.03 278.32M531.43 276.4A191.37 191.37 0 0 1 532.61 280.26M531.43 276.4L560.36 267.23M532.61 280.26L535.01 279.55M534.5 277.87A193.87 193.87 0 0 1 535.49 281.23M534.5 277.87L553.63 272.07M535.49 281.23L537.9 280.55M537.57 279.42A196.37 196.37 0 0 1 538.22 281.69M537.57 279.42L559.06 273.17M538.22 281.69L541.11 280.89M529.84 299.32L530.44 299.21M528.91 292.07A184.78 184.78 0 0 1 531.68 306.4M528.91 292.07L537.56 290.04M536.94 287.49A193.66 193.66 0 0 1 538.14 292.6M536.94 287.49L539.37 286.89M538.93 285.17A196.16 196.16 0 0 1 539.79 288.61M538.93 285.17L541.36 284.55M541.05 283.39A198.66 198.66 0 0 1 541.65 285.71M541.05 283.39L547.5 281.68M541.65 285.71L562.67 280.41M539.79 288.61L546.94 286.9M538.14 292.6L540.58 292.07M540.33 290.91A196.16 196.16 0 0 1 540.83 293.22M540.33 290.91L544 290.08M540.83 293.22L552.32 290.77M531.68 306.4L532.38 306.29M531.22 299.56A185.49 185.49 0 0 1 533.28 313.07M531.22 299.56L534.5 298.94M534.12 296.98A188.82 188.82 0 0 1 534.86 300.89M534.12 296.98L566.38 290.49M534.86 300.89L537.32 300.45M537.01 298.75A191.32 191.32 0 0 1 537.62 302.15M537.01 298.75L555.2 295.32M537.62 302.15L540.08 301.74M539.88 300.59A193.82 193.82 0 0 1 540.27 302.89M539.88 300.59L549.29 298.93M540.27 302.89L553.25 300.76M533.28 313.07L534.25 312.96M533.61 307.96A186.46 186.46 0 0 1 534.76 317.97M533.61 307.96L541.05 306.91M540.79 305.17A193.98 193.98 0 0 1 541.28 308.64M540.79 305.17L568.21 301.02M541.28 308.64L543.76 308.31M543.6 307.14A196.48 196.48 0 0 1 543.92 309.49M543.6 307.14L546.57 306.73M543.92 309.49L547.55 309.03M534.76 317.97L536.24 317.84M535.73 312.81A187.95 187.95 0 0 1 536.61 322.89M535.73 312.81L544.34 311.82M536.61 322.89L537.22 322.85M536.85 317.82A188.56 188.56 0 0 1 537.45 327.88M536.85 317.82L540.21 317.53M540.05 315.8A191.93 191.93 0 0 1 540.35 319.26M540.05 315.8L542.54 315.56M542.42 314.4A194.43 194.43 0 0 1 542.65 316.73M542.42 314.4L566.43 311.94M542.65 316.73L567.17 314.52M540.35 319.26L559.4 317.77M537.45 327.88L538.93 327.83M538.75 323.69A190.04 190.04 0 0 1 539.03 331.98M538.75 323.69L547.42 323.21M547.29 321.12A198.73 198.73 0 0 1 547.53 325.3M547.29 321.12L550.29 320.92M547.53 325.3L550.02 325.19M549.93 323.37A201.23 201.23 0 0 1 550.1 327.01M549.93 323.37L557.77 322.95M550.1 327.01L552.6 326.92M552.55 325.69A203.73 203.73 0 0 1 552.64 328.14M552.55 325.69L555.55 325.56M552.64 328.14L562.12 327.86M539.03 331.98L539.88 331.97M539.87 330.82A190.9 190.9 0 0 1 539.89 333.12M539.87 330.82L562.26 330.43M539.89 333.12L550.96 333.06" stroke="#4f9e31"/>
<path d="M287.04 293.19L266.95 279.89M274.8 330.31A74.3 74.3 0 0 1 287.04 293.19M308.18 321.33L278.14 311.86M306.21 333.3A42.8 42.8 0 0 1 308.18 321.33M327.86 330.28L306.92 326.4M327.51 333.64A21.5 21.5 0 0 1 327.86 330.28M348.3 333.3L327.6 331.6M274.1 329.6L259.5 330.7" stroke="#2a2a2a"/>
<path d="M327.6 333.5L306.5 333.5M306.2 333.3L185 329.6M259.5 330.7L186 328.3M186 327.0L140 325.8M186 328.0L150 327.0M185 329.0L142 328.0M185 330.0L152 329.0" stroke="#2a2a2a" stroke-width="0.7" stroke-dasharray="3.2 1.6" stroke-linecap="butt"/>
</g>
<circle cx="243.53" cy="320.15" r="1.4" fill="#b8441f"/>
<circle cx="256.12" cy="263.7" r="1.4" fill="#2f1fb5"/>
<circle cx="335.03" cy="194.2" r="1.4" fill="#2f7d1f"/>
<g id="labels" stroke="#000" stroke-width="0.22">
<text transform="translate(84.65 312.45) rotate(4.35)" font-size="7.51" font-weight="bold" fill="#000" text-anchor="middle" dominant-baseline="central">UBA7694</text>
<text transform="translate(92.6 286.9) rotate(9.23)" font-size="7.48" font-weight="bold" fill="#000" text-anchor="middle" dominant-baseline="central">S15B-MN24</text>
<text transform="translate(103 255.6) rotate(16.6)" font-size="7.5" font-weight="bold" font-style="italic" fill="#000" text-anchor="middle" dominant-baseline="central">Vampirovibrionales</text>
<text transform="translate(121.4 192.8) rotate(-55.01)" font-size="7.62" font-weight="bold" fill="#000" text-anchor="middle" dominant-baseline="central">Gastranaerophilales</text>
<text transform="translate(168.6 149.35) rotate(46.78)" font-size="7.88" font-weight="bold" fill="#000" text-anchor="middle" dominant-baseline="central">2-02-FULL-35-15</text>
<text transform="translate(170.3 127.4) rotate(46.87)" font-size="6.19" font-weight="bold" fill="#000" text-anchor="middle" dominant-baseline="central">Caenarcaniphilales</text>
<text transform="translate(191.35 115.45) rotate(48.8)" font-size="8" font-weight="bold" fill="#000" text-anchor="middle" dominant-baseline="central">LMEP-6097</text>
<text transform="translate(250.45 89.6) rotate(-23.89)" font-size="7.81" font-weight="bold" fill="#000" text-anchor="middle" dominant-baseline="central">Obscuribacterales</text>
<text transform="translate(309.15 91.8) rotate(-97.61)" font-size="7.47" font-weight="bold" fill="#000" text-anchor="middle" dominant-baseline="central">Gloeobacterales</text>
<text transform="translate(321.5 90.9) rotate(-96.88)" font-size="7.35" font-weight="bold" fill="#000" text-anchor="middle" dominant-baseline="central">Thermostichales</text>
<text transform="translate(343.6 81.35) rotate(-90)" font-size="7.34" font-weight="bold" fill="#000" text-anchor="middle" dominant-baseline="central">Pseudanabaenales</text>
<text transform="translate(364.1 95.3) rotate(-86.88)" font-size="5.86" font-weight="bold" fill="#000" text-anchor="middle" dominant-baseline="central">Gloeomargaritales</text>
<text transform="translate(362.8 54.6) rotate(-86.8)" font-size="5.26" font-weight="bold" fill="#000" text-anchor="middle" dominant-baseline="central">FACHB-261</text>
<text transform="translate(378.05 86) rotate(-81.49)" font-size="7.41" font-weight="bold" fill="#000" text-anchor="middle" dominant-baseline="central">Thermosynechococcales</text>
<text transform="translate(392.15 111.95) rotate(-78.33)" font-size="5.4" font-weight="bold" fill="#000" text-anchor="middle" dominant-baseline="central">PCC-7407</text>
<text transform="translate(397.3 64.1) rotate(-78.2)" font-size="5.33" font-weight="bold" fill="#000" text-anchor="middle" dominant-baseline="central">CACIAM-69d</text>
<text transform="translate(408.5 84.55) rotate(-76.63)" font-size="7.3" font-weight="bold" fill="#000" text-anchor="middle" dominant-baseline="central">Elainellales</text>
<text transform="translate(423.55 94.75) rotate(-73.51)" font-size="7.44" font-weight="bold" fill="#000" text-anchor="middle" dominant-baseline="central">Phormidesmiales</text>
<text transform="translate(441.45 81.35) rotate(-71.28)" font-size="5.4" font-weight="bold" fill="#000" text-anchor="middle" dominant-baseline="central">PCC-7407</text>
<text transform="translate(437.35 116.95) rotate(-68.79)" font-size="7.28" font-weight="bold" fill="#000" text-anchor="middle" dominant-baseline="central">PCC-9006</text>
<text transform="translate(459.1 86.75) rotate(-67.47)" font-size="5.53" font-weight="bold" fill="#000" text-anchor="middle" dominant-baseline="central">Synechococcales</text>
<text transform="translate(505.55 92.6) rotate(29.63)" font-size="7.71" font-weight="bold" fill="#000" text-anchor="middle" dominant-baseline="central">PCC-6307</text>
<text transform="translate(512.35 162.75) rotate(-44.07)" font-size="5.26" font-weight="bold" fill="#000" text-anchor="middle" dominant-baseline="central">CAIUCS01</text>
<text transform="translate(515.75 177.8) rotate(-44.09)" font-size="5.44" font-weight="bold" fill="#000" text-anchor="middle" dominant-baseline="central">GCF-001939115</text>
<text transform="translate(537.45 146.6) rotate(-44.32)" font-size="5.24" font-weight="bold" fill="#000" text-anchor="middle" dominant-baseline="central">SKYG9</text>
<text transform="translate(546.85 154.95) rotate(-41.57)" font-size="5.35" font-weight="bold" fill="#000" text-anchor="middle" dominant-baseline="central">Neosynechococcales</text>
<text transform="translate(552 140.2) rotate(-40.98)" font-size="5.36" font-weight="bold" fill="#000" text-anchor="middle" dominant-baseline="central">FACHB-46</text>
<text transform="translate(549.85 165.9) rotate(-40.22)" font-size="7.42" font-weight="bold" fill="#000" text-anchor="middle" dominant-baseline="central">Leptolyngbyales</text>
<text transform="translate(597.9 251.15) rotate(67.47)" font-size="7.75" font-weight="bold" fill="#000" text-anchor="middle" dominant-baseline="central">Cyanobacteriales</text>
</g>
<g stroke="#000" stroke-width="0.15">
<text transform="translate(247.25 264.45) rotate(-53.1)" font-size="5.32" font-weight="bold" fill="#000" text-anchor="middle" dominant-baseline="central">Vampirovibrionia</text>
<text transform="translate(252.15 294.45) rotate(-71.1)" font-size="5.41" font-weight="bold" fill="#000" text-anchor="middle" dominant-baseline="central">Sericytochromatia</text>
<text x="336.6" y="199.2" font-size="5.4" font-weight="bold" fill="#000">Cyanobacteria</text>
</g>
<text x="73.9" y="329.8" font-size="7.15" font-weight="bold" fill="#000" stroke="#000" stroke-width="0.22">Margulisbacteria</text>
<text x="19.5" y="20.7" font-size="16.8" font-weight="bold" fill="#000">a</text>
<text x="16.3" y="334.4" font-size="6.9" font-weight="bold" fill="#111">200</text>
<text x="31.2" y="334.4" font-size="6.9" font-weight="bold" fill="#111">100</text>
<path d="M16.2 303V334M30.6 303V334" stroke="#bdbdbd" stroke-width="0.5" fill="none"/>
<g font-size="3.9" fill="#444" text-anchor="middle">
<text transform="translate(240.4 168.3) rotate(56.79)" dominant-baseline="central">77</text>
<text transform="translate(225.5 198.5) rotate(47.69)" dominant-baseline="central">96</text>
<text transform="translate(289.5 168.5) rotate(70.25)" dominant-baseline="central">94</text>
<text transform="translate(293.5 169.5) rotate(71.38)" dominant-baseline="central">98</text>
<text transform="translate(334.2 167) rotate(84.94)" dominant-baseline="central">89</text>
<text transform="translate(341 164) rotate(87.31)" dominant-baseline="central">83</text>
<text transform="translate(370.2 159.6) rotate(-83.08)" dominant-baseline="central">98</text>
<text transform="translate(372.7 165.8) rotate(-81.99)" dominant-baseline="central">82</text>
<text transform="translate(383.1 178.9) rotate(-77.62)" dominant-baseline="central">72</text>
<text transform="translate(421.6 171.5) rotate(-65.95)" dominant-baseline="central">93</text>
<text transform="translate(480.3 131.8) rotate(-57.03)" dominant-baseline="central">78</text>
<text transform="translate(525.3 142.4) rotate(-47.41)" dominant-baseline="central">77</text>
<text transform="translate(476.4 219.1) rotate(-42.1)" dominant-baseline="central">85</text>
<text transform="translate(479.8 230.9) rotate(-38.3)" dominant-baseline="central">88</text>
<text transform="translate(500.7 238.3) rotate(-32.3)" dominant-baseline="central">72</text>
<text transform="translate(503.4 249.4) rotate(-28.78)" dominant-baseline="central">87</text>
<text transform="translate(536 287.5) rotate(-14.02)" dominant-baseline="central">84</text>
<text transform="translate(541.1 317.5) rotate(-4.97)" dominant-baseline="central">86</text>
<text transform="translate(190.6 321.7) rotate(4.51)" dominant-baseline="central">81</text>
<text transform="translate(225 201) rotate(47.05)" dominant-baseline="central">95</text>
</g>
<path d="M392.3 313H476.4M392.3 311.3V314.7M476.4 311.3V314.7M434.3 313V314.6" stroke="#606060" stroke-width="0.8" fill="none"/>
<text x="434" y="323.2" font-size="7.75" fill="#222" text-anchor="middle">1 substitution per site</text>
<g id="panel-b">
<text x="10.4" y="360.9" font-size="16.5" font-weight="bold" fill="#000">b</text>
<rect x="36.5" y="498.40" width="21.1" height="1.20" fill="#e5e4e2"/>
<rect x="36.5" y="498.06" width="21.1" height="0.34" fill="#6d7b8d"/>
<rect x="78.6" y="459.18" width="21.4" height="40.42" fill="#e5e4e2"/>
<rect x="78.6" y="451.64" width="21.4" height="7.54" fill="#6d7b8d"/>
<rect x="121.0" y="410.10" width="21.2" height="89.50" fill="#e5e4e2"/>
<rect x="121.0" y="380.13" width="21.2" height="29.98" fill="#6d7b8d"/>
<rect x="26.3" y="374.6" width="126.6" height="125.0" fill="none" stroke="#333" stroke-width="0.5"/>
<text x="22.9" y="501.60" font-size="5.5" fill="#111" text-anchor="end" letter-spacing="0.45">0</text>
<text x="22.9" y="484.47" font-size="5.5" fill="#111" text-anchor="end" letter-spacing="0.45">200</text>
<text x="22.9" y="467.34" font-size="5.5" fill="#111" text-anchor="end" letter-spacing="0.45">400</text>
<text x="22.9" y="450.21" font-size="5.5" fill="#111" text-anchor="end" letter-spacing="0.45">600</text>
<text x="22.9" y="433.09" font-size="5.5" fill="#111" text-anchor="end" letter-spacing="0.45">800</text>
<text x="22.9" y="415.96" font-size="5.5" fill="#111" text-anchor="end" letter-spacing="0.45">1000</text>
<text x="22.9" y="398.83" font-size="5.5" fill="#111" text-anchor="end" letter-spacing="0.45">1200</text>
<text x="22.9" y="381.70" font-size="5.5" fill="#111" text-anchor="end" letter-spacing="0.45">1400</text>
<path d="M24.7 499.60H26.3M24.7 482.47H26.3M24.7 465.34H26.3M24.7 448.21H26.3M24.7 431.09H26.3M24.7 413.96H26.3M24.7 396.83H26.3M24.7 379.70H26.3M47.1 499.6V501.3M89.3 499.6V501.3M131.6 499.6V501.3" stroke="#333" stroke-width="0.5" fill="none"/>
<rect x="31" y="379.7" width="11.6" height="3.9" fill="#e5e4e2"/>
<rect x="31" y="388.1" width="11.6" height="3.9" fill="#6d7b8d"/>
<text x="47" y="383.7" font-size="5.5" fill="#111" letter-spacing="0.3">References</text>
<text x="47" y="392.1" font-size="5.5" fill="#111" letter-spacing="0.3">New MAGs</text>
<text transform="translate(55.3 506.3) rotate(-43)" font-size="7.6" font-weight="bold" fill="#111" text-anchor="end">Sericytochromatia</text>
<text transform="translate(97.5 506.3) rotate(-43)" font-size="7.6" font-weight="bold" fill="#111" text-anchor="end">Vampirovibrionia</text>
<text transform="translate(139.8 506.3) rotate(-43)" font-size="7.6" font-weight="bold" fill="#111" text-anchor="end">Cyanobacteria</text>
</g>
<g id="panel-c">
<rect x="171.6" y="347.9" width="365.9" height="215.4" fill="#fff" stroke="#a6a6a6" stroke-width="1"/>
<text x="178.4" y="363.6" font-size="16.5" font-weight="bold" fill="#000">c</text>
<path d="M268.4 498.4V504.4H335.6V493.5M296.3 486V493.5H376V491.1M338.2 487.4V491.1H412.8V489.8M324.3 481.9V487.4H352M379.9 487.5V489.8H444V485M407.6 482.2V485H481.6V460.9M428.2 446.6V454.7H444M442.5 446.6V454.7M444 454.9H460V453.3H477.3V451.7M463.5 448.4V451.7H491.4V448.4M443.9 456.2V460.9H519.6V457" fill="none" stroke="#b7d8a9" stroke-width="1"/>
<path d="M253.7 472.9H282.9L268.4 498.4Z" fill="#d6e9cd" stroke="#b7d8a9" stroke-width="1" stroke-linejoin="miter"/>
<path d="M282.0 460.2H310.2L296.3 486.0Z" fill="#d6e9cd" stroke="#b7d8a9" stroke-width="1" stroke-linejoin="miter"/>
<path d="M310.2 456.0H338.2L324.3 481.9Z" fill="#d6e9cd" stroke="#b7d8a9" stroke-width="1" stroke-linejoin="miter"/>
<path d="M365.8 461.5H394.4L379.9 487.8Z" fill="#d6e9cd" stroke="#b7d8a9" stroke-width="1" stroke-linejoin="miter"/>
<path d="M393.4 456.3H421.8L407.6 482.4Z" fill="#d6e9cd" stroke="#b7d8a9" stroke-width="1" stroke-linejoin="miter"/>
<path d="M476.9 421.9H506.2L491.4 448.5Z" fill="#d6e9cd" stroke="#b7d8a9" stroke-width="1" stroke-linejoin="miter"/>
<path d="M505.3 431.6H533.8L519.6 456.9Z" fill="#d6e9cd" stroke="#b7d8a9" stroke-width="1" stroke-linejoin="miter"/>
<path d="M338.4 449.3H366.8L352.3 474.6Z" fill="#8fb57f" stroke="#3f8a25" stroke-width="1" stroke-dasharray="3.4 1.6"/>
<path d="M352.3 474.6V487.4" stroke="#3f8a25" stroke-width="1" stroke-dasharray="4.6 2.2" fill="none"/>
<path d="M197.8 500.7H226.7L212.6 527.1Z" fill="#e5747b" stroke="#d7222b" stroke-width="1"/>
<path d="M226.4 494.5H255.1L240.9 520.6Z" fill="#b8a6ea" stroke="#7a5de0" stroke-width="1"/>
<path d="M194.1 538.2V553.2H242.3V533M216.8 553.2V557.6M212.6 527.1V532.8H271.3V529.1M240.9 520.6V529.1H302V504.5" fill="none" stroke="#111" stroke-width="1.1"/>
<ellipse cx="241.6" cy="533.3" rx="2.2" ry="3.5" fill="#000"/>
<ellipse cx="302.1" cy="504.2" rx="2.0" ry="3.4" fill="#000"/>
<ellipse cx="443.9" cy="456.2" rx="1.4" ry="2.2" fill="#000"/>
<ellipse cx="519.6" cy="458.2" rx="1.4" ry="2.2" fill="#000"/>
<path d="M511.5 417.6V431.4" stroke="#33cfa5" stroke-width="0.9" stroke-dasharray="1 0.8" fill="none"/>
<path d="M523 417.6V431.4" stroke="#33cfa5" stroke-width="0.9" fill="none"/>
<path d="M463.5 428.4V448.4" stroke="#2a2ae0" stroke-width="1.1" stroke-dasharray="6.8 4.2 9.2 5" fill="none"/>
<rect x="436.4" y="355.9" width="10" height="90.7" fill="#56b0ea"/>
<text transform="translate(194.1 535.6) rotate(-90)" font-size="8.2" font-weight="bold" fill="#111" text-anchor="start">Margulisbacteria</text>
<text transform="translate(213.4 493.6) rotate(-90)" font-size="8.7" font-weight="bold" fill="#111" text-anchor="start">Sericytochromatia</text>
<text transform="translate(238.9 486.0) rotate(-90)" font-size="8.7" font-weight="bold" fill="#111" text-anchor="start">Vampirovibrionia</text>
<text transform="translate(268.7 463.2) rotate(-90)" font-size="8.8" font-weight="normal" fill="#111" text-anchor="start">Gloeobacterales</text>
<text transform="translate(297.7 456.0) rotate(-90)" font-size="8.8" font-weight="normal" fill="#111" text-anchor="start">Pseudanabaenales</text>
<text transform="translate(326.4 452.0) rotate(-90)" font-size="8.8" font-weight="normal" fill="#111" text-anchor="start">Gloeomargaritales</text>
<text transform="translate(355.6 443.8) rotate(-90)" font-size="11" font-weight="bold" fill="#3f8a25" text-anchor="start">Archaeplastida</text>
<text transform="translate(381.0 455.3) rotate(-90)" font-size="8.5" font-weight="normal" fill="#111" text-anchor="start">FACHB-261</text>
<text transform="translate(404.4 452.8) rotate(-90)" font-size="7.7" font-weight="normal" fill="#111" text-anchor="start">Thermosynechococcales</text>
<text transform="translate(429.7 445.0) rotate(-90)" font-size="7.3" font-weight="normal" fill="#111" text-anchor="start"><tspan font-style="italic" font-size="7.6">Synechococcus</tspan><tspan font-size="6.3"> WH5701</tspan></text>
<text transform="translate(444.6 445.6) rotate(-90)" font-size="7.3" font-weight="normal" fill="#111" text-anchor="start"><tspan font-style="italic" font-size="7.6">Synechococcus</tspan><tspan font-size="6.3"> RSCCF101</tspan></text>
<text transform="translate(466.3 425.3) rotate(-90)" font-size="10.9" font-weight="bold" font-style="italic" fill="#1d1df0" text-anchor="start">Paulinella</text>
<text transform="translate(486.7 391.2) rotate(-90)" font-size="8.6" font-weight="normal" fill="#111" text-anchor="middle">Remaining</text>
<text transform="translate(495.2 391.2) rotate(-90)" font-size="8.6" font-weight="normal" fill="#111" text-anchor="middle">Cyanobiaceae</text>
<text transform="translate(513.3 415.9) rotate(-90)" font-size="6.6" font-weight="bold" fill="#33cfa5" text-anchor="start">UCYN-A (Nitroplast)</text>
<text transform="translate(524.8 391.1) rotate(-90)" font-size="6.6" font-weight="bold" font-style="italic" fill="#33cfa5" text-anchor="middle">Crocosphaera</text>
<text transform="translate(531.9 391.1) rotate(-90)" font-size="6.6" font-weight="bold" font-style="italic" fill="#33cfa5" text-anchor="middle">subtropica</text>
<text x="261.4" y="552.6" font-size="8.8" font-weight="bold" fill="#111">Cyanobacteriota</text>
<text x="311.8" y="527.6" font-size="8.9" font-weight="bold" fill="#111">Cyanobacteria</text>
<text x="419.5" y="475" font-size="7.7" fill="#111">PCC-6307</text>
<text x="465.1" y="498.8" font-size="8.8" fill="#111">Cyanobacteriales</text>
<path d="M259.40 546.30L249.50 537.92" stroke="#000" stroke-width="1.1" fill="none"/>
<path d="M246.30 535.20L250.80 536.39L248.21 539.44Z" fill="#000"/>
<path d="M320.60 516.60L309.38 509.05" stroke="#000" stroke-width="1.1" fill="none"/>
<path d="M305.90 506.70L310.50 507.39L308.27 510.70Z" fill="#000"/>
<path d="M433.40 467.10L439.26 461.50" stroke="#000" stroke-width="1.1" fill="none"/>
<path d="M442.30 458.60L440.64 462.95L437.88 460.05Z" fill="#000"/>
<path d="M500.90 489.00L515.61 464.98" stroke="#000" stroke-width="1.1" fill="none"/>
<path d="M517.80 461.40L517.31 466.03L513.90 463.94Z" fill="#000"/>
</g>
<g id="panel-d">
<text x="546.4" y="362.4" font-size="16.5" font-weight="bold" fill="#000">d</text>
<path d="M585.4 376.3H590.5V450H585.4M585.4 393.9H590.5M585.4 431.4H590.5" stroke="#111" stroke-width="0.9" fill="none"/>
<rect x="595.3" y="376.9" width="6.6" height="34.6" rx="3" fill="#66c2a5"/>
<rect x="595.3" y="413.2" width="6.6" height="35.5" rx="3" fill="#fc8d62"/>
<rect x="645.8" y="376.9" width="36.9" height="34.9" rx="3.4" fill="#b5de2b"/>
<rect x="607.5" y="413.2" width="37.5" height="35.5" rx="3.4" fill="#440154"/>
<rect x="607.5" y="454.9" width="37.5" height="6.6" rx="3" fill="#66c2a5"/>
<rect x="645.8" y="454.9" width="36.9" height="6.6" rx="3" fill="#fc8d62"/>
<text x="664.3" y="397.3" font-size="8.4" font-weight="bold" fill="#111" text-anchor="middle">79.35</text>
<text x="626.2" y="434" font-size="8.4" font-weight="bold" fill="#fff" text-anchor="middle">79.31</text>
<path d="M607.5 472V469.1H682.7V472M626 469.1V472M664 469.1V472" stroke="#111" stroke-width="0.9" fill="none"/>
<text x="562.7" y="394.0" font-size="5.5" font-weight="bold" fill="#111" text-anchor="middle">GCF_000153045</text>
<text x="562.7" y="399.1" font-size="5.5" font-weight="bold" fill="#111" text-anchor="middle">(WH-5701)</text>
<text x="562.7" y="429.5" font-size="5.5" font-weight="bold" fill="#111" text-anchor="middle">GCF_008807075</text>
<text x="562.7" y="434.6" font-size="5.5" font-weight="bold" fill="#111" text-anchor="middle">(RSCCF101)</text>
<text transform="translate(635.6 475.3) rotate(-27)" font-size="6.6" font-weight="bold" fill="#111" text-anchor="end">GCF_000153045</text>
<text transform="translate(673.4 475.3) rotate(-27)" font-size="6.6" font-weight="bold" fill="#111" text-anchor="end">GCF_008807075</text>
</g>
</svg>
</body></html>
